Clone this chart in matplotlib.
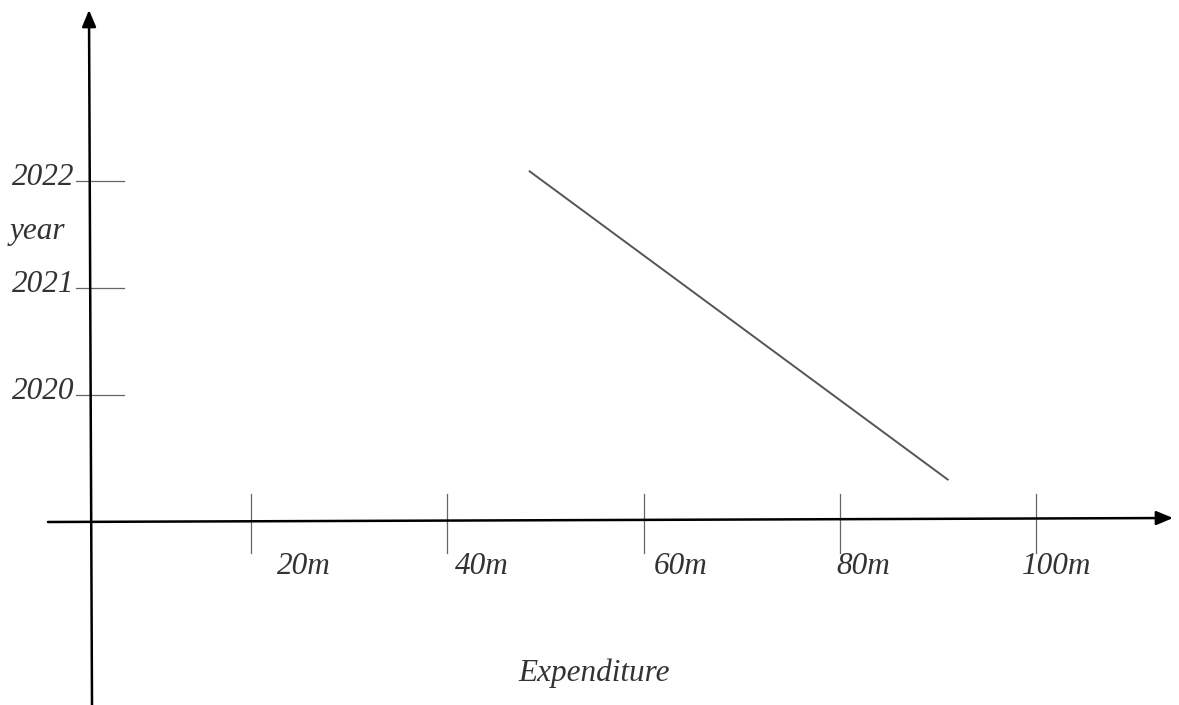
# expenditure vs year, drawn like the hand sketch
import matplotlib
matplotlib.use('Agg')
import matplotlib.pyplot as plt

# data
expenditure = [48.4, 91.0]          # in m
year = [2022.09, 2019.21]

x_ticks = [20, 40, 60, 80, 100]
x_tick_labels = ["20m", "40m", "60m", "80m", "100m"]
y_ticks = [2020, 2021, 2022]
y_tick_labels = ["2020", "2021", "2022"]

W, H = 1179, 705
fig = plt.figure(figsize=(W / 100, H / 100), dpi=100)
ax = fig.add_axes([0, 0, 1, 1])

# pixel mapping of the sketch: 20m -> 251px, 100m -> 1036px ; 2020 -> 395px, 2022 -> 181px (from top)
sx = (1036 - 251) / 80
x0 = 251 - 20 * sx
sy = (395 - 181) / 2
ax.set_xlim(-x0 / sx, (W - x0) / sx)
ax.set_ylim(2020 - (H - 395) / sy, 2020 + 395 / sy)
ax.axis("off")


def px(x, y):
    # pixel (from top-left) -> data coords, only for the axis decorations
    return (x - x0) / sx, 2020 + (395 - y) / sy


font = dict(family="Liberation Serif", style="italic", size=22.5, color="#333333")

# axes with arrow heads
arrow = dict(arrowstyle="-|>,head_length=1.0,head_width=0.42", color="black", lw=1.8,
             shrinkA=0, shrinkB=0)
ax.annotate("", xy=px(1173, 518), xytext=px(48, 522), arrowprops=arrow)
ax.annotate("", xy=px(89, 10), xytext=px(92, 705), arrowprops=arrow)

# x ticks and labels
x_label_left = [22.6, 40.8, 61.0, 79.7, 98.6]
_, xt_top = px(0, 494)
_, xt_bot = px(0, 553)
_, xl_y = px(0, 567)
for t, lab, lx in zip(x_ticks, x_tick_labels, x_label_left):
    ax.plot([t, t], [xt_top, xt_bot], color="#666666", lw=0.9)
    ax.text(lx, xl_y, lab, ha="left", va="center", **font)

# y ticks and labels
yt_left, _ = px(76, 0)
yt_right, _ = px(124, 0)
yl_x, _ = px(74, 0)
for t, lab in zip(y_ticks, y_tick_labels):
    ax.plot([yt_left, yt_right], [t, t], color="#666666", lw=0.9)
    ax.text(yl_x, t + 0.03, lab, ha="right", va="center", **font)

# axis names
ax.text(*px(10, 232), "year", ha="left", va="center", **font)
ax.text(*px(594, 673), "Expenditure", ha="center", va="center", **font)

# the line
ax.plot(expenditure, year, color="#555555", lw=1.4)

fig.savefig("out.png", dpi=100, facecolor="white")
